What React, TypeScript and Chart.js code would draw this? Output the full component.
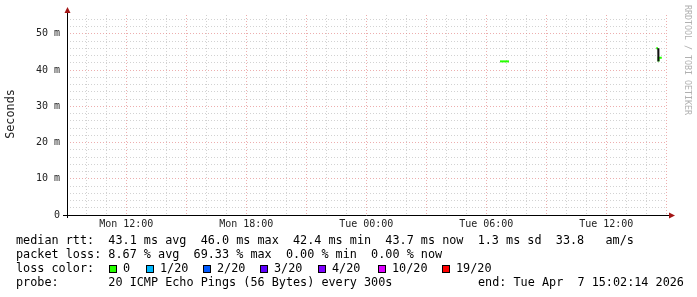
import React, { useEffect, useRef } from 'react';
import { Chart, registerables } from 'chart.js';

Chart.register(...registerables);

// ---- data ----
// x values are hours since graph start (Mon 09:02:14)
const startClockHours = 9 + 2 / 60 + 14 / 3600;
const spanHours = 30;
const yMaxMs = 55.2;
const yMinorStep = 2;
const yMajorStep = 10;

const dayNames = ['Mon', 'Tue'];

// median rtt (ms), loss 0 (green) segments; null = gap
const seg1Hours = [21.65, 21.8, 21.9, 22.1];
const seg1Ms = [42.4, 42.4, 42.4, 42.4];
const seg2Hours = [29.46, 29.55, 29.56, 29.58, 29.66, 29.74];
const seg2Ms: (number | null)[] = [46.0, 46.0, null, 42.4, 43.4, 43.4];
// dark median transition
const darkHours = [29.565, 29.57];
const darkMs = [46.0, 42.4];

const rttStatValues = [43.1, 46.0, 42.4, 43.7];
const rttStatNames = ['avg', 'max', 'min', 'now'];
const rttSd = 1.3;
const rttAmS = 33.8;
const lossStatValues = [8.67, 69.33, 0.0, 0.0];
const lossStatNames = ['avg', 'max', 'min', 'now'];

const lossLabels = ['0', '1/20', '2/20', '3/20', '4/20', '10/20', '19/20'];
const lossColors = ['#26ff00', '#00b8ff', '#0059ff', '#5e00ff', '#7e00ff', '#dd00ff', '#ff0000'];
const lossBoxX = [109, 146, 203, 260, 318, 378, 442];

const probeText = '20 ICMP Echo Pings (56 Bytes) every 300s';
const endText = 'end: Tue Apr  7 15:02:14 2026';

const MONO = "'DejaVu Sans Mono', monospace";
const MAJOR_GRID = 'rgba(225,120,120,0.6)';
const MINOR_GRID = 'rgba(195,195,195,0.75)';
const ARROW = '#a31515';

const pts = (xs: number[], ys: (number | null)[]) => xs.map((x, i) => ({ x, y: ys[i] }));

const overlay = {
  id: 'overlay',
  afterDraw(chart: any) {
    const { ctx, chartArea: a } = chart;
    ctx.save();
    // axes
    ctx.strokeStyle = '#000';
    ctx.lineWidth = 1;
    ctx.beginPath();
    ctx.moveTo(a.left + 0.5, a.top - 2);
    ctx.lineTo(a.left + 0.5, a.bottom + 3);
    ctx.moveTo(a.left - 4, a.bottom + 0.5);
    ctx.lineTo(a.right + 3, a.bottom + 0.5);
    ctx.stroke();
    // arrows
    ctx.fillStyle = ARROW;
    ctx.beginPath();
    ctx.moveTo(a.left + 0.5, a.top - 8);
    ctx.lineTo(a.left - 2.5, a.top - 2);
    ctx.lineTo(a.left + 3.5, a.top - 2);
    ctx.closePath();
    ctx.fill();
    ctx.beginPath();
    ctx.moveTo(a.right + 8, a.bottom + 0.5);
    ctx.lineTo(a.right + 2, a.bottom - 2.5);
    ctx.lineTo(a.right + 2, a.bottom + 3.5);
    ctx.closePath();
    ctx.fill();

    // y title
    ctx.fillStyle = '#222';
    ctx.font = `11.8px ${MONO}`;
    ctx.textAlign = 'center';
    ctx.textBaseline = 'middle';
    ctx.save();
    ctx.translate(11, 114);
    ctx.rotate(-Math.PI / 2);
    ctx.fillText('Seconds', 0, 0);
    ctx.restore();

    // watermark
    ctx.save();
    ctx.fillStyle = '#b0b0b0';
    ctx.font = `8.3px ${MONO}`;
    ctx.translate(687, 5);
    ctx.rotate(Math.PI / 2);
    ctx.textAlign = 'left';
    ctx.fillText('RRDTOOL / TOBI OETIKER', 0, 0);
    ctx.restore();

    // legend
    ctx.fillStyle = '#000';
    ctx.font = `11.8px ${MONO}`;
    ctx.textAlign = 'left';
    ctx.textBaseline = 'middle';
    const line1 =
      'median rtt:  ' +
      rttStatValues.map((v, i) => `${v.toFixed(1)} ms ${rttStatNames[i]}`).join('  ') +
      `  ${rttSd.toFixed(1)} ms sd  ${rttAmS.toFixed(1)}   am/s`;
    const line2 =
      'packet loss: ' +
      lossStatValues.map((v, i) => `${v.toFixed(2)} % ${lossStatNames[i]}`).join('  ');
    ctx.fillText(line1, 16, 241);
    ctx.fillText(line2, 16, 255);
    ctx.fillText('loss color:', 16, 269);
    lossLabels.forEach((lab, i) => {
      const bx = lossBoxX[i];
      ctx.fillStyle = lossColors[i];
      ctx.fillRect(bx, 265, 8, 8);
      ctx.strokeStyle = '#000';
      ctx.lineWidth = 1;
      ctx.strokeRect(bx + 0.5, 265.5, 7, 7);
      ctx.fillStyle = '#000';
      ctx.fillText(lab, bx + 14, 269);
    });
    ctx.fillText('probe:       ' + probeText, 16, 283);
    ctx.fillText(endText, 478, 283);
    ctx.restore();
  },
};

function xTickLabel(clock: number) {
  if (clock % 6 !== 0) return '';
  const day = dayNames[Math.floor(clock / 24)];
  const hh = String(clock % 24).padStart(2, '0');
  return `${day} ${hh}:00`;
}

export default function App() {
  const ref = useRef<HTMLCanvasElement | null>(null);
  useEffect(() => {
    if (!ref.current) return;
    const chart = new Chart(ref.current, {
      type: 'line',
      data: {
        datasets: [
          {
            data: pts(seg1Hours, seg1Ms),
            borderColor: '#26ff00',
            borderWidth: 2,
            stepped: 'after',
            pointRadius: 0,
            fill: false,
            spanGaps: false,
            order: 1,
          },
          {
            data: pts(seg2Hours, seg2Ms),
            borderColor: '#26ff00',
            borderWidth: 2,
            stepped: 'after',
            pointRadius: 0,
            fill: false,
            spanGaps: false,
            order: 1,
          },
          {
            data: pts(darkHours, darkMs),
            borderColor: '#111',
            borderWidth: 2,
            pointRadius: 0,
            fill: false,
            order: 0,
          },
        ],
      },
      options: {
        animation: false,
        responsive: false,
        devicePixelRatio: 1,
        layout: { padding: { left: 0, right: 30, top: 15, bottom: 0 } },
        plugins: { legend: { display: false }, tooltip: { enabled: false } },
        scales: {
          x: {
            type: 'linear',
            min: 0,
            max: spanHours,
            afterFit: (s: any) => {
              s.height = 82;
            },
            afterBuildTicks: (s: any) => {
              const ticks: any[] = [];
              for (let c = Math.ceil(startClockHours); c - startClockHours <= spanHours; c++) {
                ticks.push({ value: c - startClockHours });
              }
              s.ticks = ticks;
            },
            ticks: {
              autoSkip: false,
              maxRotation: 0,
              minRotation: 0,
              padding: 3,
              color: '#222',
              font: { family: MONO, size: 10 },
              callback: (v: any) => xTickLabel(Math.round(Number(v) + startClockHours)),
            },
            grid: {
              drawTicks: false,
              lineWidth: 1,
              color: (c: any) => {
                const v = c.tick ? c.tick.value : 0;
                const clock = Math.round(v + startClockHours);
                return clock % 3 === 0 ? MAJOR_GRID : MINOR_GRID;
              },
            },
            border: { display: false, dash: [1, 2] },
          },
          y: {
            type: 'linear',
            min: 0,
            max: yMaxMs,
            afterFit: (s: any) => {
              s.width = 67;
            },
            afterBuildTicks: (s: any) => {
              const ticks: any[] = [];
              for (let v = 0; v <= yMaxMs; v += yMinorStep) ticks.push({ value: v });
              s.ticks = ticks;
            },
            ticks: {
              autoSkip: false,
              padding: 7,
              color: '#222',
              font: { family: MONO, size: 10 },
              callback: (v: any) => {
                const n = Number(v);
                if (n % yMajorStep !== 0) return '';
                return n === 0 ? '0' : `${n} m`;
              },
            },
            grid: {
              drawTicks: false,
              lineWidth: 1,
              color: (c: any) => {
                const v = c.tick ? c.tick.value : 0;
                return v % yMajorStep === 0 ? MAJOR_GRID : MINOR_GRID;
              },
            },
            border: { display: false, dash: [1, 2] },
          },
        },
      },
      plugins: [overlay],
    } as any);
    return () => chart.destroy();
  }, []);
  return (
    <div style={{ position: 'fixed', left: 0, top: 0, width: 697, height: 297, background: '#fff' }}>
      <canvas ref={ref} width={697} height={297} style={{ display: 'block' }} />
    </div>
  );
}
